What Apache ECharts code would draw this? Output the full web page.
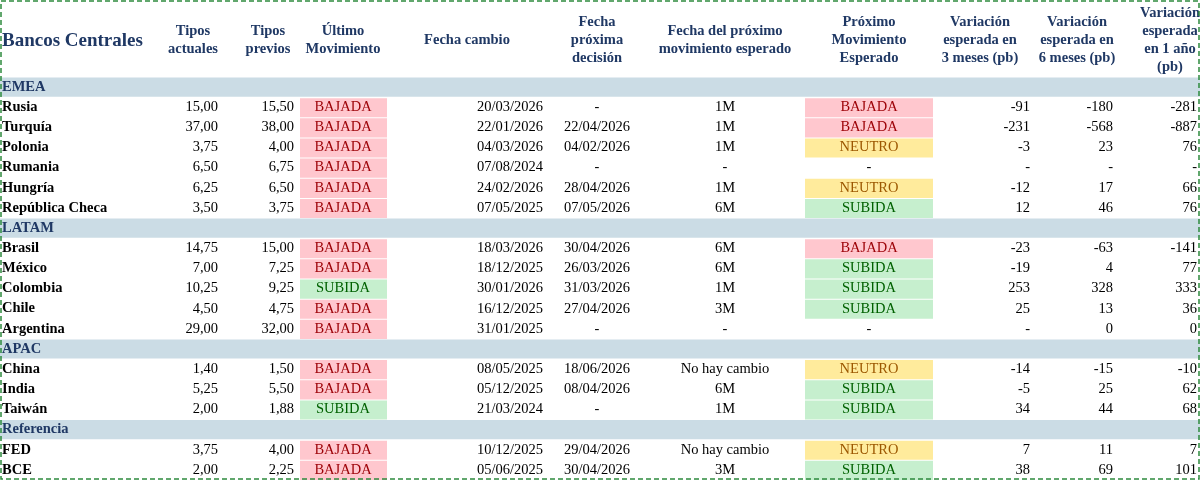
<!DOCTYPE html><html><head><meta charset="utf-8"><script src="https://cdn.jsdelivr.net/npm/echarts@6/dist/echarts.min.js"></script>
<style>html,body{margin:0;padding:0;background:#fff}#c{width:1200px;height:480px}</style></head><body><div id="c"></div><script>
const rows=["EMEA","Rusia","Turquía","Polonia","Rumania","Hungría","República Checa","LATAM","Brasil","México","Colombia","Chile","Argentina","APAC","China","India","Taiwán","Referencia","FED","BCE"];
const isSection=[1,0,0,0,0,0,0,1,0,0,0,0,0,1,0,0,0,1,0,0];
const actuales=["","15,00","37,00","3,75","6,50","6,25","3,50","","14,75","7,00","10,25","4,50","29,00","","1,40","5,25","2,00","","3,75","2,00"];
const previos=["","15,50","38,00","4,00","6,75","6,50","3,75","","15,00","7,25","9,25","4,75","32,00","","1,50","5,50","1,88","","4,00","2,25"];
const ultimo=["","BAJADA","BAJADA","BAJADA","BAJADA","BAJADA","BAJADA","","BAJADA","BAJADA","SUBIDA","BAJADA","BAJADA","","BAJADA","BAJADA","SUBIDA","","BAJADA","BAJADA"];
const fechaCambio=["","20/03/2026","22/01/2026","04/03/2026","07/08/2024","24/02/2026","07/05/2025","","18/03/2026","18/12/2025","30/01/2026","16/12/2025","31/01/2025","","08/05/2025","05/12/2025","21/03/2024","","10/12/2025","05/06/2025"];
const proxDecision=["","-","22/04/2026","04/02/2026","-","28/04/2026","07/05/2026","","30/04/2026","26/03/2026","31/03/2026","27/04/2026","-","","18/06/2026","08/04/2026","-","","29/04/2026","30/04/2026"];
const proxMov=["","1M","1M","1M","-","1M","6M","","6M","6M","1M","3M","-","","No hay cambio","6M","1M","","No hay cambio","3M"];
const esperado=["","BAJADA","BAJADA","NEUTRO","-","NEUTRO","SUBIDA","","BAJADA","SUBIDA","SUBIDA","SUBIDA","-","","NEUTRO","SUBIDA","SUBIDA","","NEUTRO","SUBIDA"];
const var3=["","-91","-231","-3","-","-12","12","","-23","-19","253","25","-","","-14","-5","34","","7","38"];
const var6=["","-180","-568","23","-","17","46","","-63","4","328","13","0","","-15","25","44","","11","69"];
const var12=["","-281","-887","76","-","66","76","","-141","77","333","36","0","","-10","62","68","","7","101"];
const headers=[["Tipos\nactuales",193],["Tipos\nprevios",268],["Último\nMovimiento",343],["Fecha cambio",467],["Fecha\npróxima\ndecisión",597],["Fecha del próximo\nmovimiento esperado",725],["Próximo\nMovimiento\nEsperado",869],["Variación\nesperada en\n3 meses (pb)",980],["Variación\nesperada en\n6 meses (pb)",1077],["Variación\nesperada\nen 1 año\n(pb)",1170]];
const sty={BAJADA:["#FFC7CE","#9C0006"],SUBIDA:["#C6EFCE","#006100"],NEUTRO:["#FFEB9C","#9C5700"]};
const F='"Liberation Serif","DejaVu Serif",serif';
const FS='14.5px ';
const chart=echarts.init(document.getElementById('c'));
function txt(x,y,s,align,fill,bold){return {type:'text',style:{x:x,y:y,text:s,align:align,verticalAlign:'middle',font:(bold?'bold ':'')+FS+F,fill:fill||'#000'}};}
chart.setOption({animation:false,
grid:{left:0,right:0,top:77,bottom:-2},
xAxis:{type:'value',min:0,max:1200,show:false},
yAxis:{type:'category',data:rows,inverse:true,show:false},
graphic:[{type:'rect',shape:{x:1,y:1,width:1198,height:478},style:{fill:'none',stroke:'#2E8B3E',lineWidth:1.5,lineDash:[5,3]},z:100},
{type:'text',style:{x:2,y:41,text:'Bancos Centrales',verticalAlign:'middle',font:'bold 19px '+F,fill:'#1F3864'}}].concat(headers.map(h=>({type:'text',style:{x:h[1],y:40,text:h[0],align:'center',verticalAlign:'middle',font:'bold 14.5px '+F,fill:'#1F3864',lineHeight:18}}))),
series:[{type:'custom',data:rows.map((r,i)=>[0,i]),renderItem:function(p,api){
const i=api.value(1);const c=api.coord([0,i]);const h=api.size([0,1])[1];const y=c[1];const top=y-h/2;
const X=v=>api.coord([v,i])[0];
const ch=[];
if(isSection[i]){ch.push({type:'rect',shape:{x:X(0),y:top+0.5,width:X(1200)-X(0),height:h-1},style:{fill:'#CBDCE5'}});
ch.push(txt(X(2),y,rows[i],'left','#1F3864',true));return {type:'group',children:ch};}
const u=sty[ultimo[i]];ch.push({type:'rect',shape:{x:X(300),y:top+1,width:X(387)-X(300),height:h-1},style:{fill:u[0]}});
if(sty[esperado[i]]){const e=sty[esperado[i]];ch.push({type:'rect',shape:{x:X(805),y:top+1,width:X(933)-X(805),height:h-1},style:{fill:e[0]}});ch.push(txt(X(869),y,esperado[i],'center',e[1]));}
else ch.push(txt(X(869),y,esperado[i],'center'));
ch.push(txt(X(2),y,rows[i],'left','#000',true));
ch.push(txt(X(218),y,actuales[i],'right'));ch.push(txt(X(294),y,previos[i],'right'));
ch.push(txt(X(343),y,ultimo[i],'center',u[1]));
ch.push(txt(X(543),y,fechaCambio[i],'right'));ch.push(txt(X(597),y,proxDecision[i],'center'));ch.push(txt(X(725),y,proxMov[i],'center'));
ch.push(txt(X(1030),y,var3[i],'right'));ch.push(txt(X(1113),y,var6[i],'right'));ch.push(txt(X(1197),y,var12[i],'right'));
return {type:'group',children:ch};}}]});
</script></body></html>
